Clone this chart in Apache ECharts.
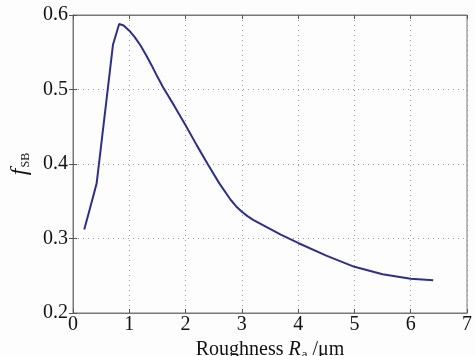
<!DOCTYPE html>
<html><head><meta charset="utf-8">
<script src="https://cdn.jsdelivr.net/npm/echarts@6/dist/echarts.min.js"></script>
<style>html,body{margin:0;padding:0;background:#fdfdfd;}#c{width:475px;height:356px;}</style>
</head><body><div id="c"></div>
<script>
var roughness = [0.2,0.3,0.42,0.5,0.6,0.71,0.82,0.9,1.0,1.1,1.2,1.3,1.4,1.5,1.6,1.8,2.0,2.2,2.4,2.6,2.8,2.9,3.0,3.1,3.2,3.4,3.7,4.0,4.5,5.0,5.5,6.0,6.4];
var fSB = [0.312,0.34,0.374,0.425,0.489,0.56,0.588,0.586,0.579,0.57,0.559,0.546,0.532,0.517,0.503,0.478,0.452,0.425,0.399,0.374,0.352,0.343,0.336,0.33,0.325,0.317,0.305,0.294,0.277,0.262,0.252,0.246,0.244];
var xTicks = [0,1,2,3,4,5,6,7];
var yTicks = [0.2,0.3,0.4,0.5,0.6];

var font = 'Liberation Serif';
var chart = echarts.init(document.getElementById('c'));
var data = roughness.map(function(x,i){return [x,fSB[i]];});
var gridLine = {show:true,lineStyle:{color:'#999',type:[1,4],width:1}};
chart.setOption({
  backgroundColor:'#fdfdfd',
  animation:false,
  grid:{left:73,right:8,top:15,bottom:43,outerBoundsMode:'none',containLabel:false,show:true,borderColor:'#777',borderWidth:1,backgroundColor:'#fdfdfd'},
  xAxis:[{
    type:'value',min:0,max:7,interval:1,position:'bottom',
    axisLine:{show:true,lineStyle:{color:'#777'}},
    axisTick:{show:true,inside:true,length:4,lineStyle:{color:'#555'}},
    splitLine:gridLine,
    axisLabel:{color:'#111',fontFamily:font,fontSize:20,margin:2,formatter:function(v){return xTicks.indexOf(v)>=0?String(v):'';}},
    name:'Roughness {i|R}{s|a} /μm',nameLocation:'middle',nameGap:22,
    nameTextStyle:{color:'#111',fontFamily:font,fontSize:20,rich:{i:{fontStyle:'italic',fontFamily:font,fontSize:20,color:'#111'},s:{fontFamily:font,fontSize:13,color:'#111',padding:[9,0,0,1]}}}
  },{
    type:'value',min:0,max:7,interval:1,position:'top',
    axisLine:{show:true,lineStyle:{color:'#777'}},
    axisTick:{show:true,inside:true,length:4,lineStyle:{color:'#555'}},
    axisLabel:{show:false},splitLine:{show:false}
  }],
  yAxis:[{
    type:'value',min:0.2,max:0.6,interval:0.1,position:'left',
    axisLine:{show:true,lineStyle:{color:'#777'}},
    axisTick:{show:true,inside:true,length:4,lineStyle:{color:'#555'}},
    splitLine:gridLine,
    axisLabel:{color:'#111',fontFamily:font,fontSize:20,margin:5,formatter:function(v){return yTicks.some(function(t){return Math.abs(t-v)<1e-9;})?v.toFixed(1):'';}},
    name:'{i|f}{s|SB}',nameLocation:'middle',nameGap:38,nameRotate:90,
    nameTextStyle:{color:'#111',fontFamily:font,fontSize:22,rich:{i:{fontStyle:'italic',fontFamily:font,fontSize:24,color:'#111'},s:{fontFamily:font,fontSize:12,color:'#111',padding:[12,0,0,1]}}}
  },{
    type:'value',min:0.2,max:0.6,interval:0.1,position:'right',
    axisLine:{show:true,lineStyle:{color:'#777'}},
    axisTick:{show:true,inside:true,length:4,lineStyle:{color:'#555'}},
    axisLabel:{show:false},splitLine:{show:false}
  }],
  series:[{
    type:'line',data:data,showSymbol:false,smooth:false,
    lineStyle:{color:'#2e3088',width:2},
    xAxisIndex:0,yAxisIndex:0
  }]
});
</script></body></html>
